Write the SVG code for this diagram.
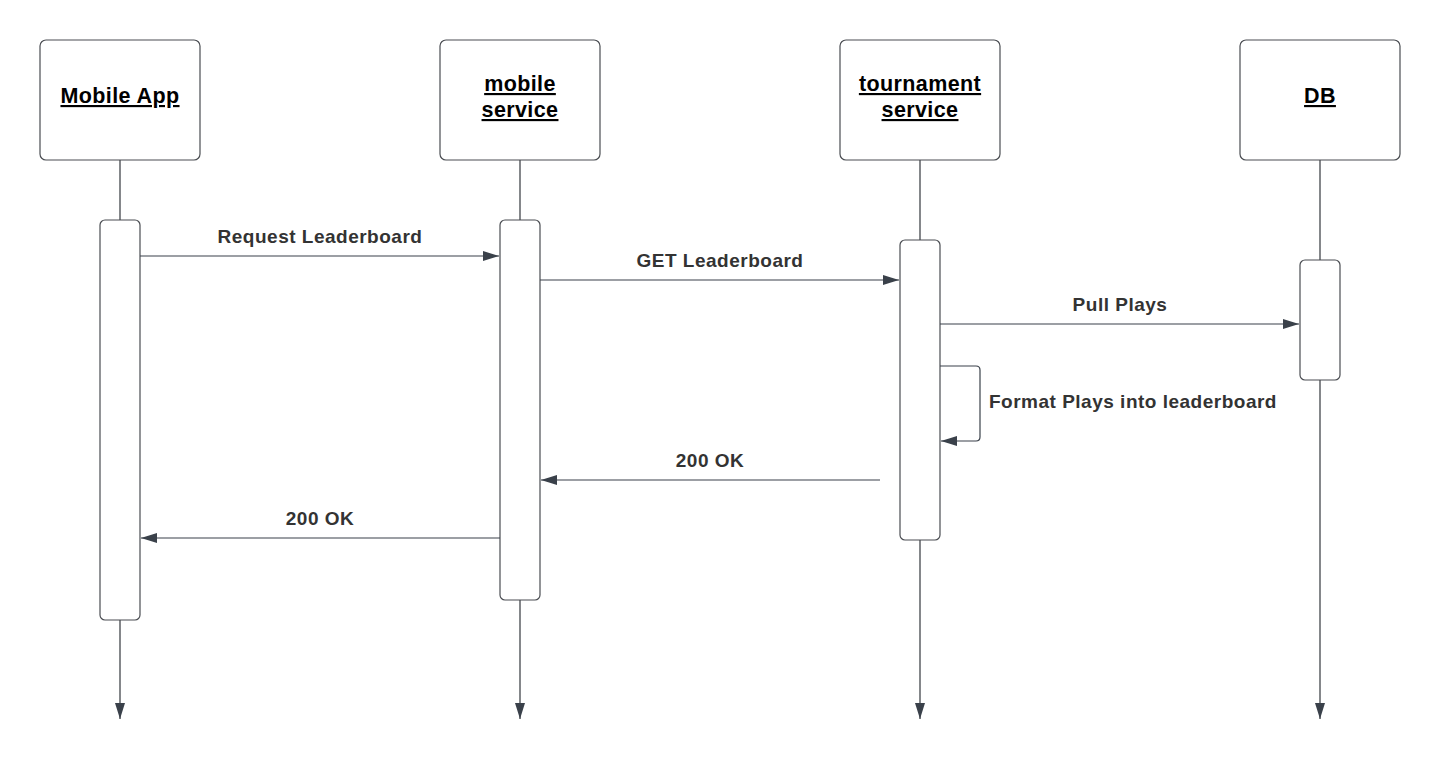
<svg xmlns="http://www.w3.org/2000/svg" width="1440" height="758" viewBox="0 0 1440 758">
  <style>
    .box { fill: #ffffff; stroke: #4a4d52; stroke-width: 1.2; }
    .act { fill: #ffffff; stroke: #4a4d52; stroke-width: 1.2; }
    .life { stroke: #33373d; stroke-width: 1.2; fill: none; }
    .msg { stroke: #3a414a; stroke-width: 1.2; fill: none; }
    .head { font-family: "Liberation Sans", Arial, sans-serif; font-weight: bold; font-size: 21.5px; fill: #000000; text-anchor: middle; text-decoration: underline; letter-spacing: 0.4px; }
    .lbl { font-family: "Liberation Sans", Arial, sans-serif; font-weight: bold; font-size: 19px; fill: #333333; text-anchor: middle; letter-spacing: 0.5px; }
  </style>
  <defs>
    <marker id="arr" viewBox="0 0 16 10" refX="16" refY="5" markerWidth="16" markerHeight="10" markerUnits="userSpaceOnUse" orient="auto">
      <path d="M0,0 L16,5 L0,10 Z" fill="#3a414a"/>
    </marker>
  </defs>

  <g id="lifelines">
    <line class="life" x1="120" y1="160" x2="120" y2="719" marker-end="url(#arr)"/>
    <line class="life" x1="520" y1="160" x2="520" y2="719" marker-end="url(#arr)"/>
    <line class="life" x1="920" y1="160" x2="920" y2="719" marker-end="url(#arr)"/>
    <line class="life" x1="1320" y1="160" x2="1320" y2="719" marker-end="url(#arr)"/>
  </g>

  <g id="node-mobile-app">
    <rect class="box" x="40" y="40" width="160" height="120" rx="6"/>
    <text class="head" x="120" y="103">Mobile App</text>
    <rect class="act" x="100" y="220" width="40" height="400" rx="5"/>
  </g>
  <g id="node-mobile-service">
    <rect class="box" x="440" y="40" width="160" height="120" rx="6"/>
    <text class="head" x="520" y="91">mobile</text>
    <text class="head" x="520" y="117">service</text>
    <rect class="act" x="500" y="220" width="40" height="380" rx="5"/>
  </g>
  <g id="node-tournament-service">
    <rect class="box" x="840" y="40" width="160" height="120" rx="6"/>
    <text class="head" x="920" y="91">tournament</text>
    <text class="head" x="920" y="117">service</text>
    <rect class="act" x="900" y="240" width="40" height="300" rx="5"/>
  </g>
  <g id="node-db">
    <rect class="box" x="1240" y="40" width="160" height="120" rx="6"/>
    <text class="head" x="1320" y="103">DB</text>
    <rect class="act" x="1300" y="260" width="40" height="120" rx="5"/>
  </g>

  <g id="connectors">
    <line class="msg" x1="140" y1="256" x2="499" y2="256" marker-end="url(#arr)"/>
    <text class="lbl" x="320" y="243">Request Leaderboard</text>

    <line class="msg" x1="540" y1="280" x2="899" y2="280" marker-end="url(#arr)"/>
    <text class="lbl" x="720" y="267">GET Leaderboard</text>

    <line class="msg" x1="940" y1="324" x2="1299" y2="324" marker-end="url(#arr)"/>
    <text class="lbl" x="1120" y="311">Pull Plays</text>

    <path class="msg" d="M940,366 H976 Q980,366 980,370 V437 Q980,441 976,441 H941" marker-end="url(#arr)"/>
    <text class="lbl" x="989" y="408" style="text-anchor:start">Format Plays into leaderboard</text>

    <line class="msg" x1="880" y1="480" x2="541" y2="480" marker-end="url(#arr)"/>
    <text class="lbl" x="710" y="467">200 OK</text>

    <line class="msg" x1="500" y1="538" x2="141" y2="538" marker-end="url(#arr)"/>
    <text class="lbl" x="320" y="525">200 OK</text>
  </g>
</svg>
